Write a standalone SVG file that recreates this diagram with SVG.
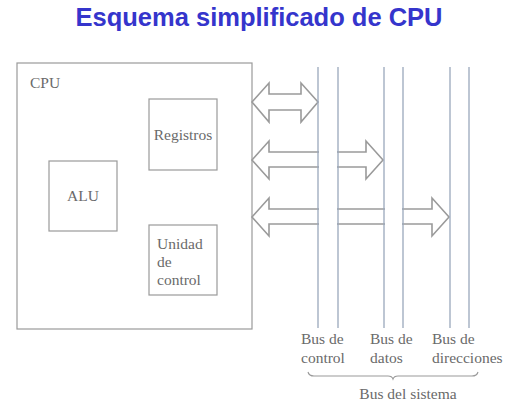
<svg xmlns="http://www.w3.org/2000/svg" width="508" height="411" viewBox="0 0 508 411">
<style>
.box{fill:none;stroke:#9a9a9a;stroke-width:1.2}
.lbl{font-family:"Liberation Serif","DejaVu Serif",serif;font-size:15.5px;fill:#6a6a6a}
.bus{stroke:#9aa8bc;stroke-width:1.3}
.arr{fill:#fff;stroke:#9a9a9a;stroke-width:1.6;stroke-linejoin:miter}
.title{font-family:"Liberation Sans",Arial,sans-serif;font-weight:bold;font-size:25.5px;fill:#3535cc}
</style>
<rect width="508" height="411" fill="#fff"/>
<text class="title" x="259" y="26" text-anchor="middle">Esquema simplificado de CPU</text>
<g id="cpu">
<rect class="box" x="17" y="63" width="235" height="266"/>
<text class="lbl" x="30" y="88">CPU</text>
</g>
<g id="registros">
<rect class="box" x="149" y="99" width="68" height="71"/>
<text class="lbl" x="183" y="140" text-anchor="middle">Registros</text>
</g>
<g id="alu">
<rect class="box" x="49" y="161" width="68" height="70"/>
<text class="lbl" x="83" y="201" text-anchor="middle">ALU</text>
</g>
<g id="unidad">
<rect class="box" x="149" y="225" width="68" height="70"/>
<text class="lbl" x="157" y="249">Unidad</text>
<text class="lbl" x="157" y="267">de</text>
<text class="lbl" x="157" y="285">control</text>
</g>
<g id="connectors">
<polygon class="arr" points="252,102 269,83 269,94 301,94 301,83 318,102 301,122 301,110 269,110 269,122"/>
<polygon class="arr" points="252,160 269,141 269,152 366,152 366,141 383,160 366,179 366,167 269,167 269,179"/>
<polygon class="arr" points="252,217 269,198 269,209 432,209 432,198 449,217 432,236 432,224 269,224 269,236"/>
<rect x="319" y="145" width="18" height="30" fill="#fff"/>
<rect x="319" y="203" width="18" height="27" fill="#fff"/>
<rect x="385" y="203" width="17" height="27" fill="#fff"/>
<line class="bus" x1="318" y1="67" x2="318" y2="328"/>
<line class="bus" x1="338" y1="67" x2="338" y2="328"/>
<line class="bus" x1="384" y1="67" x2="384" y2="328"/>
<line class="bus" x1="403" y1="67" x2="403" y2="328"/>
<line class="bus" x1="450" y1="67" x2="450" y2="328"/>
<line class="bus" x1="469" y1="67" x2="469" y2="328"/>
<path d="M308,372 Q309,376 314,376 L388,376 Q392,376 393,379 Q394,376 398,376 L472,376 Q477,376 478,372" fill="none" stroke="#9a9a9a" stroke-width="1.1"/>
</g>
<g id="labels">
<text class="lbl" x="301" y="344">Bus de</text>
<text class="lbl" x="301" y="363">control</text>
<text class="lbl" x="370" y="344">Bus de</text>
<text class="lbl" x="370" y="363">datos</text>
<text class="lbl" x="432" y="344">Bus de</text>
<text class="lbl" x="432" y="363">direcciones</text>
<text class="lbl" x="408" y="399" text-anchor="middle">Bus del sistema</text>
</g>
</svg>
